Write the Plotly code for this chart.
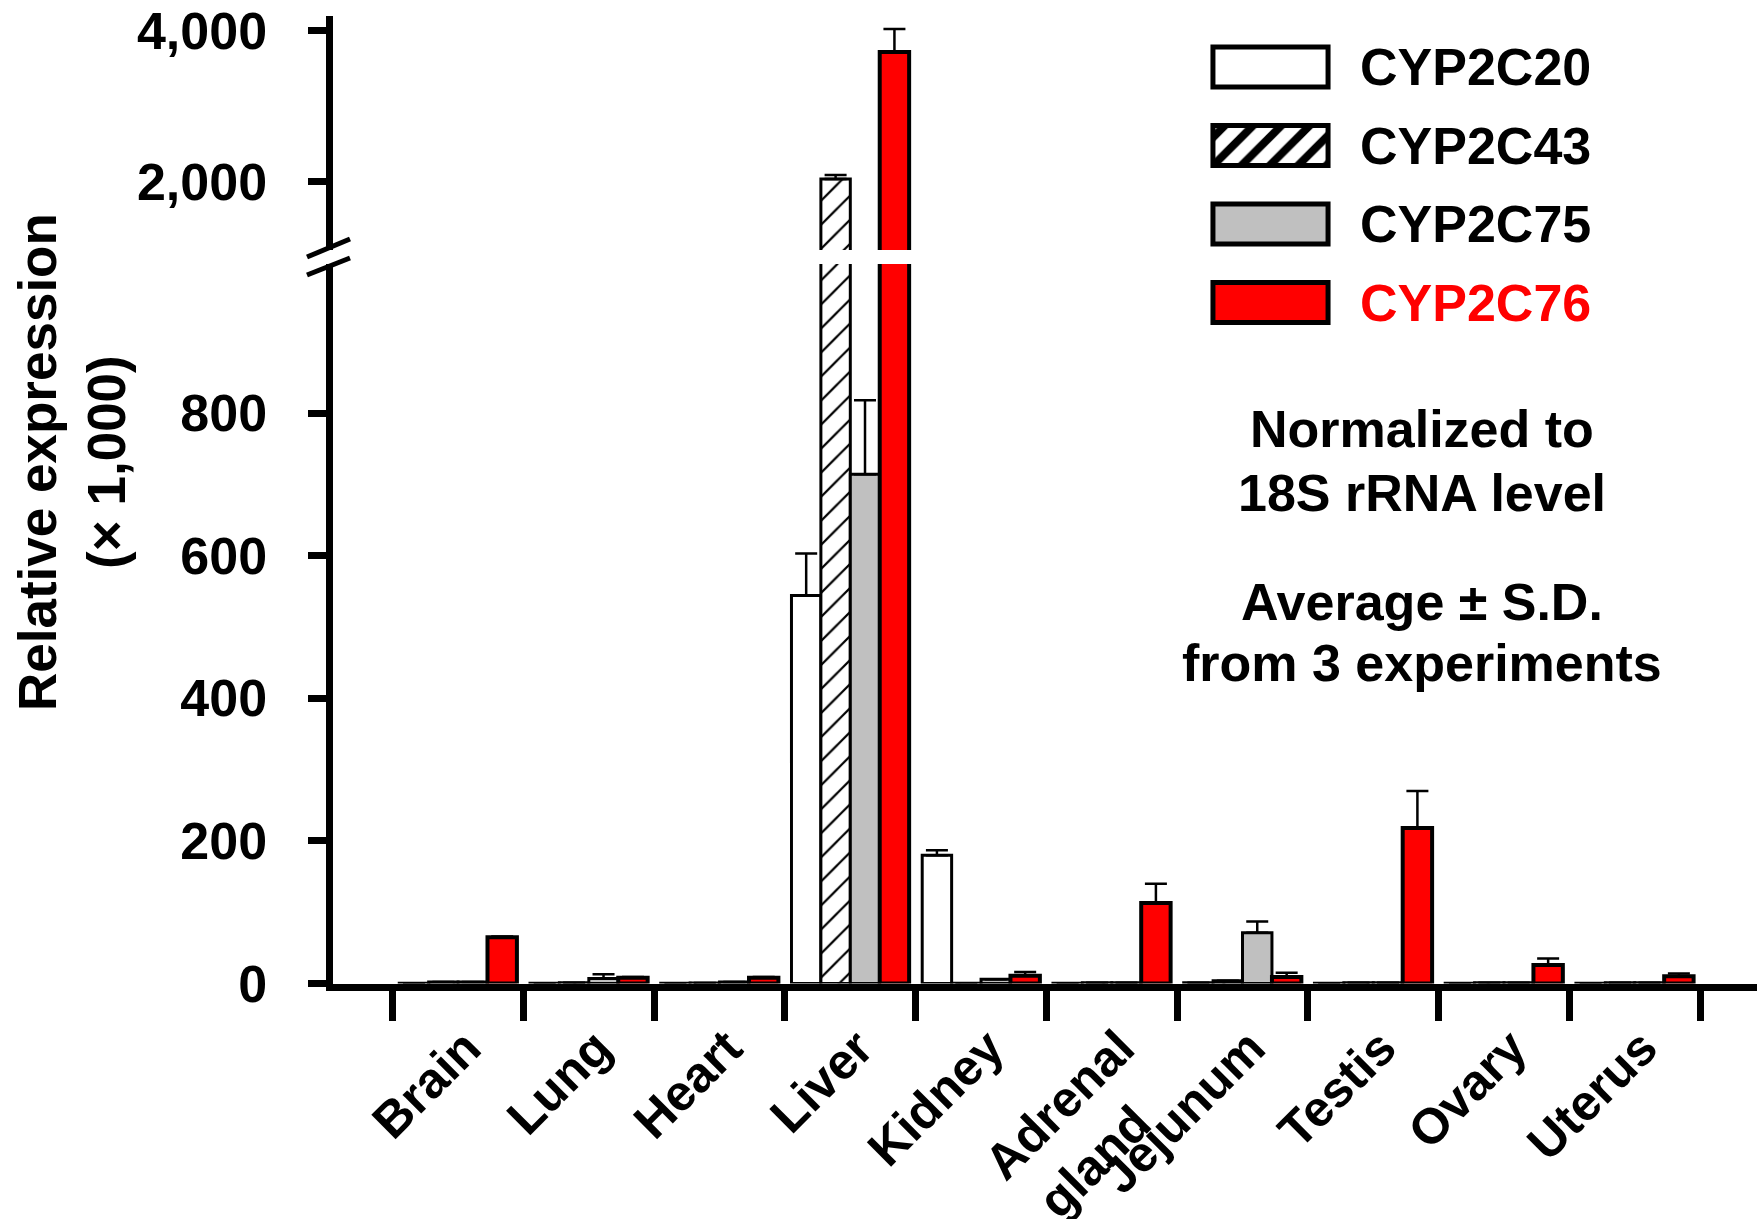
import plotly.graph_objects as go

# ---------------- data ----------------
tissues = ["Brain", "Lung", "Heart", "Liver", "Kidney",
           "Adrenal<br>gland\u00a0\u00a0\u00a0", "Jejunum", "Testis", "Ovary", "Uterus"]
genes = ["CYP2C20", "CYP2C43", "CYP2C75", "CYP2C76"]

# relative expression (x 1,000), average of 3 experiments
cyp2c20 = [0.3, 0.5, 0.5, 544, 180, 0.5, 1, 0.5, 0.5, 0.5]
cyp2c43 = [2, 1, 0.8, 2036, 0.5, 1, 4, 1, 1, 1]
cyp2c75 = [2, 7, 2, 714, 6, 1, 71, 1, 1, 1]
cyp2c76 = [65, 8, 8, 3717, 11, 113, 9, 218, 26, 10]
# standard deviations (None = not drawn)
cyp2c20_sd = [None, None, None, 59, 7, None, None, None, None, None]
cyp2c43_sd = [None, None, None, 53, None, None, None, None, None, None]
cyp2c75_sd = [None, 6, None, 104, None, None, 16, None, None, None]
cyp2c76_sd = [1, 1, 1, 306, 5, 27, 6, 52, 9, 4]

lower_ticks = [0, 200, 400, 600, 800]
upper_ticks = [2000, 4000]
notes = ["Normalized to", "18S rRNA level", "Average \u00b1 S.D.", "from 3 experiments"]
legend_len = [1, 1, 1, 1]

# ---------------- style ----------------
W, H = 1757, 1219
FONT = "Liberation Sans"
fills = ["white", "white", "#c0c0c0", "#ff0000"]
patterns = ["", "/", "", ""]
line_w = [3, 3, 3, 4]

def px_x(p):
    return p / W

def px_y(p):
    return 1 - p / H

series = [cyp2c20, cyp2c43, cyp2c75, cyp2c76]
sds = [cyp2c20_sd, cyp2c43_sd, cyp2c75_sd, cyp2c76_sd]
xpos = list(range(len(tissues)))

fig = go.Figure()
for xa, ya in (("x", "y"), ("x2", "y2")):
    for g, vals, sd, fc, pat, lw in zip(genes, series, sds, fills, patterns, line_w):
        fig.add_trace(go.Bar(
            x=xpos, y=vals, name=g, xaxis=xa, yaxis=ya,
            marker=dict(color=fc, line=dict(color="black", width=lw),
                        pattern=dict(shape=pat, fgcolor="black", bgcolor="white",
                                     size=17, solidity=0.13, fillmode="replace")),
            error_y=dict(type="data", array=sd, arrayminus=[0] * len(sd),
                         symmetric=False, color="black", thickness=2.5, width=11),
            showlegend=False, hoverinfo="skip",
        ))

# legend swatches drawn as bars on their own small axes
for i, (g, fc, pat) in enumerate(zip(genes, fills, patterns)):
    fig.add_trace(go.Bar(
        x=[legend_len[i]], y=[i], orientation="h", width=0.51, offset=-0.255,
        xaxis="x3", yaxis="y3", showlegend=False, hoverinfo="skip",
        marker=dict(color=fc, line=dict(color="black", width=5),
                    pattern=dict(shape=pat, fgcolor="black", bgcolor="white",
                                 size=20, solidity=0.4, fillmode="replace")),
    ))

x_dom = [px_x(332.5), 1.0]
x_rng = [-0.9605, 9.935]
bounds = [i - 0.5 for i in range(len(tissues) + 1)]

axis_common = dict(showgrid=False, zeroline=False, color="black", automargin=False)

fig.update_layout(
    template="none",
    width=W, height=H, margin=dict(l=0, r=0, t=0, b=0, pad=0, autoexpand=False),
    paper_bgcolor="white", plot_bgcolor="rgba(0,0,0,0)",
    barmode="group", bargap=0.1, bargroupgap=0,
    showlegend=False,
    font=dict(family=FONT, color="black", size=52, weight="bold"),
    xaxis=dict(domain=x_dom, range=x_rng, anchor="y", **axis_common,
               showline=True, linewidth=7, linecolor="black",
               tickmode="array", tickvals=[i + 0.06 for i in xpos], ticktext=tissues,
               ticks="", tickangle=-45, ticklabelstandoff=8,
               tickfont=dict(family=FONT, size=50, color="black", weight="bold"),
               minor=dict(tickmode="array", tickvals=bounds, ticks="outside",
                          ticklen=30, tickwidth=7, tickcolor="black")),
    xaxis2=dict(domain=x_dom, range=x_rng, anchor="y2", matches="x",
                visible=False, **axis_common),
    yaxis=dict(domain=[px_y(983.5), px_y(264)], range=[0, 1009], anchor="x",
               **axis_common, showline=True, linewidth=7, linecolor="black",
               tickmode="array", tickvals=lower_ticks, ticks="outside",
               ticklen=18, tickwidth=7, tickcolor="black", ticklabelstandoff=30,
               tickformat=",d",
               tickfont=dict(family=FONT, size=52, color="black", weight="bold")),
    yaxis2=dict(domain=[px_y(250), px_y(16)], range=[1095, 4195], anchor="x2",
                **axis_common, showline=True, linewidth=7, linecolor="black",
                tickmode="array", tickvals=upper_ticks, ticks="outside",
                ticklen=18, tickwidth=7, tickcolor="black", ticklabelstandoff=30,
                tickformat=",d",
                tickfont=dict(family=FONT, size=52, color="black", weight="bold")),
    xaxis3=dict(domain=[px_x(1209.5), px_x(1331.5)], range=[-0.03, 1.03],
                anchor="y3", visible=False, **axis_common),
    yaxis3=dict(domain=[px_y(341.75), px_y(27.75)], range=[3.5, -0.5],
                anchor="x3", visible=False, **axis_common),
)

# legend labels
legend_colors = ["black", "black", "black", "#ff0000"]
for i, (g, c) in enumerate(zip(genes, legend_colors)):
    fig.add_annotation(text=g, xref="paper", yref="y3", x=px_x(1358), y=i,
                       xanchor="left", yanchor="middle", showarrow=False,
                       font=dict(family=FONT, size=52, color=c, weight="bold"))

# notes on the right
note_y = [429, 493, 602, 663]
for t, yy in zip(notes, note_y):
    fig.add_annotation(text=t, xref="paper", yref="paper", x=px_x(1422), y=px_y(yy),
                       xanchor="center", yanchor="middle", showarrow=False,
                       font=dict(family=FONT, size=52, color="black", weight="bold"))

# y-axis title
fig.add_annotation(text="Relative expression<br>(\u00d7 1,000)", xref="paper", yref="paper",
                   x=px_x(72), y=px_y(462), xanchor="center", yanchor="middle",
                   textangle=-90, showarrow=False,
                   font=dict(family=FONT, size=53, color="black", weight="bold"))

# axis-break marks
for (x0, y0, x1, y1) in [(307, 257, 350, 239), (307, 275, 350, 258)]:
    fig.add_shape(type="line", xref="paper", yref="paper",
                  x0=px_x(x0), y0=px_y(y0), x1=px_x(x1), y1=px_y(y1),
                  line=dict(color="black", width=5))

fig.write_html("out.html",
               config={"displayModeBar": False, "staticPlot": True},
               post_script="document.body.style.margin='0px';"
                           "document.body.style.overflow='hidden';")
